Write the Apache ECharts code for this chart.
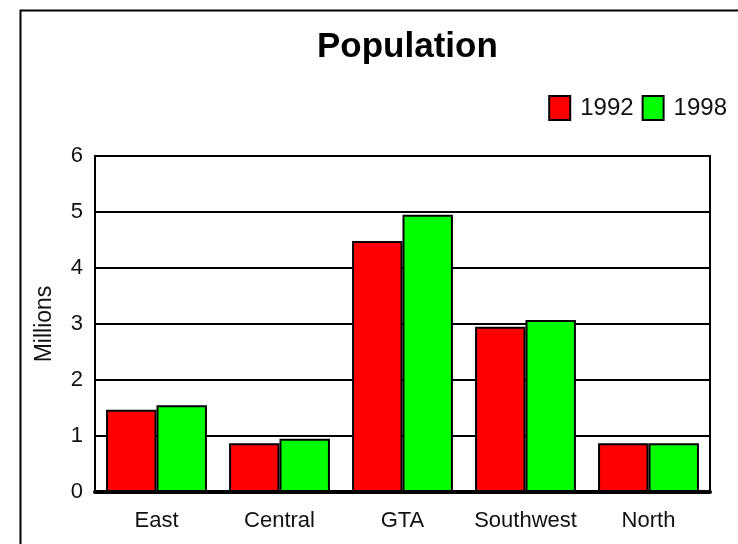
<!DOCTYPE html>
<html><head><meta charset="utf-8">
<script src="https://cdn.jsdelivr.net/npm/echarts@6/dist/echarts.min.js"></script>
<style>html,body{margin:0;padding:0;background:#fff}#c{width:738px;height:544px}</style>
</head><body><div id="c"></div>
<script>
const categories = ['East', 'Central', 'GTA', 'Southwest', 'North'];
const series1992 = [1.47, 0.87, 4.48, 2.95, 0.87];
const series1998 = [1.55, 0.95, 4.95, 3.07, 0.87];
const yTicks = [0, 1, 2, 3, 4, 5, 6];

const FONT = '"Liberation Sans", Arial, sans-serif';
const chart = echarts.init(document.getElementById('c'), null, {renderer: 'canvas'});
chart.setOption({
  backgroundColor: '#fff',
  animation: false,
  graphic: [{
    type: 'rect', left: 18, top: 8, silent: true,
    shape: {width: 740, height: 560},
    style: {fill: 'none', stroke: '#000', lineWidth: 2}
  }],
  title: {
    text: 'Population', left: 317, top: 30, padding: 0,
    textStyle: {fontFamily: FONT, fontSize: 35, fontWeight: 'bold', color: '#000'}
  },
  legend: {
    right: 11, top: 95, padding: 0, itemWidth: 21, itemHeight: 24, itemGap: 8,
    icon: 'rect',
    itemStyle: {borderColor: '#000', borderWidth: 2},
    textStyle: {fontFamily: FONT, fontSize: 24, color: '#111', padding: [0, 0, 0, 5]},
    data: ['1992', '1998']
  },
  grid: {left: 95, right: 28, top: 156, bottom: 52, show: true, borderColor: '#000', borderWidth: 2, containLabel: false},
  xAxis: {
    type: 'category', data: categories,
    axisLine: {lineStyle: {color: '#000', width: 4}},
    axisTick: {show: false},
    axisLabel: {fontFamily: FONT, fontSize: 22, color: '#111', margin: 18, interval: 0}
  },
  yAxis: {
    type: 'value', min: yTicks[0], max: yTicks[yTicks.length - 1], interval: 1,
    name: 'Millions', nameLocation: 'middle', nameGap: 39, nameRotate: 90,
    nameTextStyle: {fontFamily: FONT, fontSize: 23, color: '#111'},
    axisLine: {show: true, lineStyle: {color: '#000', width: 2}},
    axisTick: {show: false},
    axisLabel: {fontFamily: FONT, fontSize: 22, color: '#111', margin: 12},
    splitLine: {lineStyle: {color: '#000', width: 2}}
  },
  series: [
    {name: '1992', type: 'bar', data: series1992, barGap: '0%', barCategoryGap: '18%',
     itemStyle: {color: '#ff0000', borderColor: '#000', borderWidth: 2}},
    {name: '1998', type: 'bar', data: series1998, barGap: '0%', barCategoryGap: '18%',
     itemStyle: {color: '#00ff00', borderColor: '#000', borderWidth: 2}}
  ]
});
</script></body></html>
